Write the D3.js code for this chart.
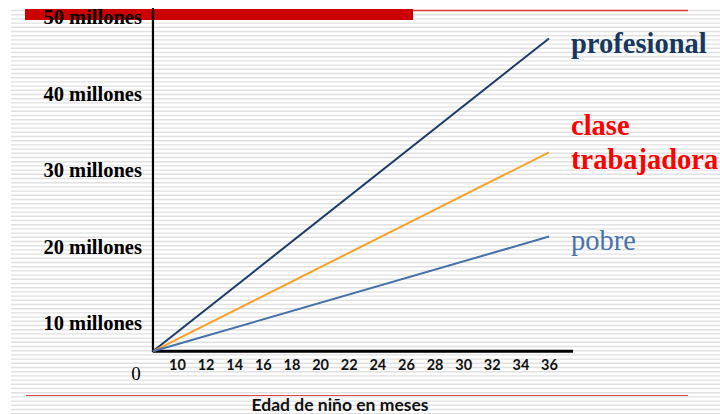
<!DOCTYPE html>
<html>
<head>
<meta charset="utf-8">
<script src="https://cdn.jsdelivr.net/npm/d3@7"></script>
<style>
  html, body { margin: 0; padding: 0; background: #ffffff; }
  svg { display: block; }
</style>
</head>
<body>
<svg id="chart" width="720" height="414"></svg>
<script>
// Palabras escuchadas (millones) según la edad del niño (meses)
const meses = [8.32, 36];
const series = ["profesional", "clase trabajadora", "pobre"];
const profesional = [6.3, 47.2];
const claseTrabajadora = [6.3, 32.3];
const pobre = [6.3, 21.3];
const yTicks = [10, 20, 30, 40, 50];
const yTickLabels = ["10 millones", "20 millones", "30 millones", "40 millones", "50 millones"];
const xTicks = [10, 12, 14, 16, 18, 20, 22, 24, 26, 28, 30, 32, 34, 36];
const xAxisEnd = 37.68;
const zeroLabel = "0";
const xTitle = "Edad de niño en meses";

const svg = d3.select("#chart");
const W = 720, H = 414;

// striped slide background
const bg = svg.append("g");
bg.selectAll("line")
  .data(d3.range(10.5, H, 4.2))
  .join("line")
  .attr("x1", 11).attr("x2", W)
  .attr("y1", d => d).attr("y2", d => d)
  .attr("stroke", "#e0e0e0")
  .attr("stroke-width", 1.4);

// decorative header rules
svg.append("rect").attr("x", 25).attr("y", 9).attr("width", 388).attr("height", 11).attr("fill", "#cc0000");
svg.append("line").attr("x1", 413).attr("x2", 688).attr("y1", 10.5).attr("y2", 10.5)
  .attr("stroke", "#e23a3a").attr("stroke-width", 1.6);
// footer rule
svg.append("line").attr("x1", 26).attr("x2", 688).attr("y1", 395.5).attr("y2", 395.5)
  .attr("stroke", "#d94a4a").attr("stroke-width", 1.2);

const x = d3.scaleLinear().domain([10, 36]).range([177, 549]);
const y = d3.scaleLinear().domain([10, 50]).range([323, 17]);

const x0 = x(meses[0]);
const yBase = y(profesional[0]);

// y axis labels
const yAxis = svg.append("g")
  .attr("transform", `translate(${x0},0)`)
  .call(d3.axisLeft(y).tickValues(yTicks).tickSize(0).tickPadding(11)
        .tickFormat((d, i) => yTickLabels[i]));
yAxis.select(".domain").remove();
yAxis.selectAll("text")
  .attr("font-family", "'Liberation Serif', 'Times New Roman', serif")
  .attr("font-weight", "bold")
  .attr("font-size", 20.5)
  .attr("fill", "#000");

// x axis labels
const xAxis = svg.append("g")
  .attr("transform", `translate(0,${yBase})`)
  .call(d3.axisBottom(x).tickValues(xTicks).tickSize(0).tickPadding(8));
xAxis.select(".domain").remove();
xAxis.selectAll("text")
  .attr("font-family", "Lato, 'Open Sans', sans-serif")
  .attr("font-weight", "bold")
  .attr("font-size", 14.5)
  .attr("fill", "#111");

// axis lines
svg.append("line").attr("x1", x0).attr("x2", x0).attr("y1", 8).attr("y2", yBase + 1)
  .attr("stroke", "#000").attr("stroke-width", 2.2);
svg.append("line").attr("x1", x0).attr("x2", x(xAxisEnd)).attr("y1", yBase).attr("y2", yBase)
  .attr("stroke", "#000").attr("stroke-width", 3);

svg.append("text")
  .attr("x", 136).attr("y", 373)
  .attr("text-anchor", "middle").attr("dominant-baseline", "central")
  .attr("font-family", "'Liberation Serif', 'Times New Roman', serif")
  .attr("font-size", 19)
  .attr("fill", "#000")
  .text(zeroLabel);

svg.append("text")
  .attr("x", 340).attr("y", 411)
  .attr("text-anchor", "middle")
  .attr("font-family", "Lato, 'Open Sans', sans-serif")
  .attr("font-weight", "bold")
  .attr("font-size", 17.5)
  .attr("fill", "#111")
  .text(xTitle);

// series lines
const colors = { "profesional": "#1c3a68", "clase trabajadora": "#f9a02a", "pobre": "#4670a8" };
const values = { "profesional": profesional, "clase trabajadora": claseTrabajadora, "pobre": pobre };
const line = d3.line().x(d => x(d[0])).y(d => y(d[1]));
svg.append("g").selectAll("path")
  .data(series)
  .join("path")
  .attr("d", s => line(meses.map((m, i) => [m, values[s][i]])))
  .attr("fill", "none")
  .attr("stroke", s => colors[s])
  .attr("stroke-width", 2);

// series labels
const serif = "'Liberation Serif', 'Times New Roman', serif";
svg.append("text").attr("x", 571).attr("y", 53)
  .attr("font-family", serif).attr("font-weight", "bold").attr("font-size", 28.5)
  .attr("fill", "#17375e").text("profesional");
const ct = svg.append("text").attr("font-family", serif).attr("font-weight", "bold")
  .attr("font-size", 28.5).attr("fill", "#ff0000");
ct.append("tspan").attr("x", 571).attr("y", 135).text("clase");
ct.append("tspan").attr("x", 571).attr("y", 169).text("trabajadora");
svg.append("text").attr("x", 571).attr("y", 250)
  .attr("font-family", serif).attr("font-size", 28.5)
  .attr("fill", "#4a73ab").text("pobre");
</script>
</body>
</html>
